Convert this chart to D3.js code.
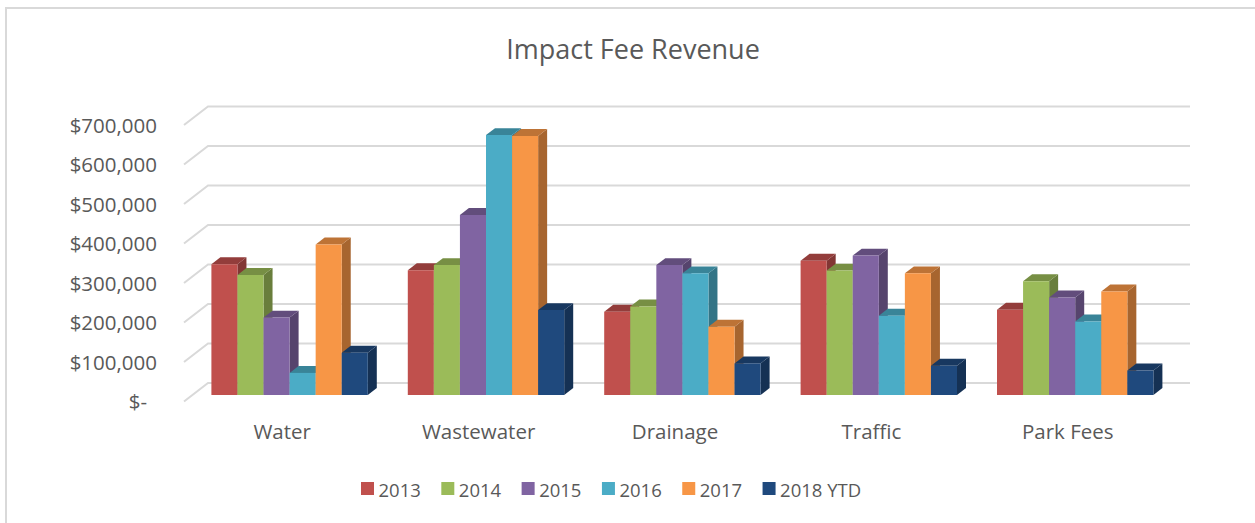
<!DOCTYPE html>
<html>
<head>
<meta charset="utf-8">
<script src="https://cdn.jsdelivr.net/npm/d3@7"></script>
<style>
  body { margin: 0; background: #fff; }
  svg { display: block; font-family: "Open Sans", sans-serif; }
</style>
</head>
<body>
<svg id="chart"></svg>
<script>
// chart data
const categories = ["Water", "Wastewater", "Drainage", "Traffic", "Park Fees"];
const years = ["2013", "2014", "2015", "2016", "2017", "2018 YTD"];
const fee2013 = [331000, 316000, 211000, 340000, 216000];
const fee2014 = [304000, 329000, 224000, 315000, 288000];
const fee2015 = [196000, 456000, 329000, 353000, 247000];
const fee2016 = [56000, 658000, 308000, 201000, 186000];
const fee2017 = [381000, 656000, 173000, 308000, 262000];
const fee2018 = [107000, 215000, 80000, 74000, 62000];
const tickValues = [0, 100000, 200000, 300000, 400000, 500000, 600000, 700000];
const colors = ["#C0504D", "#9BBB59", "#8064A2", "#4BACC6", "#F79646", "#1F497D"];

const series = [fee2013, fee2014, fee2015, fee2016, fee2017, fee2018];

const W = 1255, H = 523;
const svg = d3.select("#chart").attr("width", W).attr("height", H);

// fake 3d: depth offset of the back wall
const depthX = 24, depthY = -18.5;
const barFront = 0.35, barBack = 0.725;

svg.append("rect").attr("width", W).attr("height", H).attr("fill", "#fff");
// chart border
svg.append("rect")
  .attr("x", 6).attr("y", 8)
  .attr("width", W + 20).attr("height", H + 20)
  .attr("fill", "none").attr("stroke", "#d9d9d9").attr("stroke-width", 2);

const x0 = d3.scaleBand().domain(categories).range([184, 1166]);
const x1 = d3.scaleBand().domain(years).range([19, x0.bandwidth() - 21]);
const y = d3.scaleLinear().domain([0, 700000]).range([401.5, 125]);

function proj(x, v, d) {
  return [x + d * depthX, y(v) + d * depthY];
}

// title
svg.append("text")
  .attr("x", 633).attr("y", 59)
  .attr("text-anchor", "middle")
  .style("font-size", "27px")
  .style("fill", "#595959")
  .text("Impact Fee Revenue");

// gridlines (left wall diagonal + back wall)
const grid = svg.append("g").attr("stroke", "#d9d9d9").attr("stroke-width", 2).attr("fill", "none");
tickValues.forEach(function(t) {
  const a = proj(x0.range()[0], t, 0), b = proj(x0.range()[0], t, 1), c = proj(x0.range()[1], t, 1);
  grid.append("path").attr("d", "M" + a + "L" + b + "L" + c);
});

// y axis labels
const yAxis = d3.axisLeft(y)
  .tickValues(tickValues)
  .tickSize(0).tickPadding(0)
  .tickFormat(d => d === 0 ? "$-" : "$" + d3.format(",")(d));
svg.append("g")
  .attr("transform", "translate(157,0)")
  .call(yAxis)
  .call(g => g.select(".domain").remove())
  .call(g => g.selectAll(".tick text")
    .attr("dx", d => d === 0 ? -10 : 0)
    .attr("dy", "0.36em")
    .style("font-family", "Open Sans")
    .style("font-size", "20.5px")
    .style("fill", "#595959"));

// bars
const barsG = svg.append("g");
categories.forEach(function(cat, ci) {
  years.forEach(function(yr, si) {
    const v = series[si][ci];
    const xl = x0(cat) + x1(yr), xr = xl + x1.bandwidth();
    const col = d3.color(colors[si]);
    const fbl = proj(xl, 0, barFront), fbr = proj(xr, 0, barFront);
    const ftl = proj(xl, v, barFront), ftr = proj(xr, v, barFront);
    const btl = proj(xl, v, barBack), btr = proj(xr, v, barBack), bbr = proj(xr, 0, barBack);
    // side face
    barsG.append("path")
      .attr("d", "M" + fbr + "L" + bbr + "L" + btr + "L" + ftr + "Z")
      .attr("fill", col.darker(1.1));
    // top face
    barsG.append("path")
      .attr("d", "M" + ftl + "L" + ftr + "L" + btr + "L" + btl + "Z")
      .attr("fill", col.darker(0.75));
    // front face
    barsG.append("path")
      .attr("d", "M" + fbl + "L" + fbr + "L" + ftr + "L" + ftl + "Z")
      .attr("fill", col);
  });
});

// category labels
svg.append("g").selectAll("text")
  .data(categories)
  .join("text")
  .attr("x", d => x0(d) + x0.bandwidth() / 2)
  .attr("y", 439)
  .attr("text-anchor", "middle")
  .style("font-size", "20.5px")
  .style("fill", "#595959")
  .text(d => d);

// legend
const legend = svg.append("g");
let lx = 361;
years.forEach(function(yr, i) {
  legend.append("rect")
    .attr("x", lx).attr("y", 482)
    .attr("width", 13).attr("height", 13)
    .attr("fill", colors[i]);
  const t = legend.append("text")
    .attr("x", lx + 17.5).attr("y", 496.5)
    .style("font-size", "18.5px")
    .style("fill", "#595959")
    .text(yr);
  lx += 17.5 + t.node().getComputedTextLength() + 20.5;
});
</script>
</body>
</html>
